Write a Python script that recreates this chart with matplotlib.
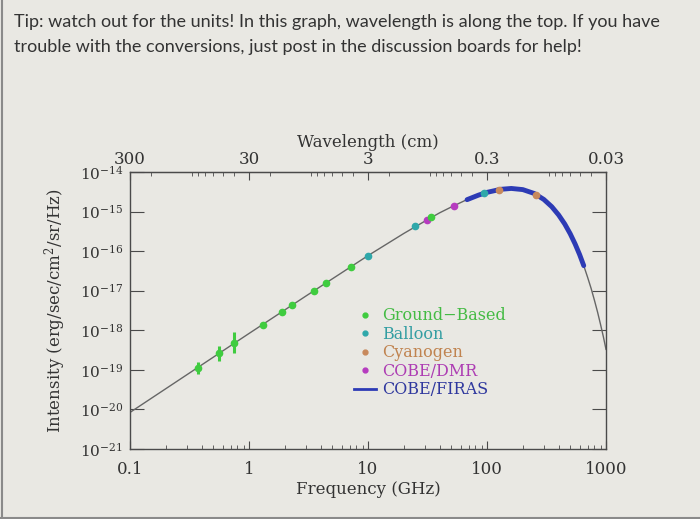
import matplotlib
matplotlib.use("Agg")
import numpy as np
import matplotlib.pyplot as plt
from matplotlib.lines import Line2D

# blackbody curve: frequency (GHz) vs intensity (erg/sec/cm^2/sr/Hz)
curve_freq = [0.1, 0.3, 1, 3, 10, 20, 30, 40, 50, 70, 100, 130, 160, 200, 250, 300,
              350, 400, 450, 500, 550, 600, 650, 700, 750, 800, 850, 900, 950, 1000]
curve_int = [8.4e-21, 7.5e-20, 8.3e-19, 7.3e-18, 7.7e-17, 2.8e-16, 5.7e-16, 9.3e-16,
             1.3e-15, 2.1e-15, 3.06e-15, 3.65e-15, 3.84e-15, 3.59e-15, 2.86e-15, 2.03e-15,
             1.33e-15, 8.2e-16, 4.86e-16, 2.76e-16, 1.52e-16, 8.2e-17, 4.3e-17, 2.2e-17,
             1.14e-17, 5.7e-18, 2.86e-18, 1.4e-18, 6.9e-19, 3.3e-19]

# COBE/FIRAS band
firas_freq = [68, 85, 100, 130, 160, 200, 250, 300, 350, 400, 450, 500, 550, 600, 650]
firas_int = [2.0e-15, 2.61e-15, 3.06e-15, 3.65e-15, 3.84e-15, 3.59e-15, 2.86e-15, 2.03e-15,
             1.33e-15, 8.2e-16, 4.86e-16, 2.76e-16, 1.52e-16, 8.2e-17, 4.3e-17]

# ground based points (with lower / upper ends of the error bars)
gb_freq = [0.37, 0.56, 0.75, 1.3, 1.9, 2.3, 3.5, 4.4, 7.2, 34]
gb_int = [1.14e-19, 2.6e-19, 4.7e-19, 1.39e-18, 2.95e-18, 4.3e-18, 9.9e-18, 1.55e-17, 4.05e-17, 7.1e-16]
gb_lo = [8.0e-20, 1.7e-19, 2.6e-19, 1.39e-18, 2.95e-18, 4.3e-18, 9.9e-18, 1.55e-17, 4.05e-17, 7.1e-16]
gb_hi = [1.6e-19, 4.0e-19, 9.0e-19, 1.39e-18, 2.95e-18, 4.3e-18, 9.9e-18, 1.55e-17, 4.05e-17, 7.1e-16]

balloon_freq = [10, 25, 95]
balloon_int = [7.7e-17, 4.2e-16, 3.0e-15]

dmr_freq = [31.5, 53]
dmr_int = [6.2e-16, 1.42e-15]

cn_freq = [125, 260]
cn_int = [3.59e-15, 2.69e-15]

freq_ticks = [0.1, 1, 10, 100, 1000]
freq_labels = ["0.1", "1", "10", "100", "1000"]
wl_ticks = [300, 30, 3, 0.3, 0.03]
wl_labels = ["300", "30", "3", "0.3", "0.03"]
y_exps = [-21, -20, -19, -18, -17, -16, -15, -14]

tip_lines = ["Tip: watch out for the units! In this graph, wavelength is along the top. If you have",
             "trouble with the conversions, just post in the discussion boards for help!"]

c_green = "#3fcc3f"
c_teal = "#2fa8aa"
c_cn = "#c8895c"
c_dmr = "#b63cbf"
c_firas = "#2d3bb5"
c_ink = "#4a4a4a"
bg = "#e9e8e3"

plt.rcParams["font.family"] = ["DejaVu Serif"]
plt.rcParams["mathtext.fontset"] = "dejavuserif"

fig = plt.figure(figsize=(7, 5.19), dpi=100, facecolor=bg)
ax = fig.add_axes([130 / 700, 1 - 449 / 519, 476 / 700, 277 / 519])
ax.set_facecolor(bg)

ax.plot(curve_freq, curve_int, color="#666666", lw=1)
ax.plot(firas_freq, firas_int, color=c_firas, lw=3.5, solid_capstyle="round")

gb_int_a = np.array(gb_int)
yerr = [gb_int_a - np.array(gb_lo), np.array(gb_hi) - gb_int_a]
ax.errorbar(gb_freq, gb_int, yerr=yerr, fmt="o", color=c_green, ms=4.5,
            elinewidth=2.2, capsize=0)
ax.plot(balloon_freq, balloon_int, "o", color=c_teal, ms=4.5)
ax.plot(dmr_freq, dmr_int, "o", color=c_dmr, ms=4.5)
ax.plot(cn_freq, cn_int, "o", color=c_cn, ms=4.5)

ax.set_xscale("log")
ax.set_yscale("log")
ax.set_xlim(0.1, 1000)
ax.set_ylim(1e-21, 1e-14)

for s in ax.spines.values():
    s.set_color(c_ink)
    s.set_linewidth(1)

ax.set_xticks(freq_ticks)
ax.set_xticklabels(freq_labels)
ax.tick_params(axis="x", which="major", direction="in", length=6, color=c_ink,
               labelsize=12, labelcolor="#333333", pad=9)
ax.tick_params(axis="x", which="minor", direction="in", length=3, color=c_ink)

ax.set_yticks([10.0 ** e for e in y_exps])
ax.set_yticklabels([r"$10^{%d}$" % e for e in y_exps])
ax.yaxis.set_minor_locator(matplotlib.ticker.NullLocator())
ax.tick_params(axis="y", which="major", direction="in", length=10, color=c_ink,
               labelsize=11, labelcolor="#333333", right=True, pad=5)

ax.set_xlabel("Frequency (GHz)", fontsize=12, color="#333333", labelpad=2)
ax.set_ylabel("Intensity (erg/sec/cm$^2$/sr/Hz)", fontsize=12, color="#333333", labelpad=8)

sec = ax.secondary_xaxis("top", functions=(lambda f: 30.0 / f, lambda w: 30.0 / w))
sec.set_xticks(wl_ticks)
sec.set_xticklabels(wl_labels)
sec.tick_params(axis="x", which="major", direction="in", length=6, color=c_ink,
                labelsize=12, labelcolor="#333333", pad=3)
sec.tick_params(axis="x", which="minor", direction="in", length=3, color=c_ink)
sec.spines["top"].set_color(c_ink)
sec.set_xlabel("Wavelength (cm)", fontsize=12, color="#333333", labelpad=3)

handles = [Line2D([], [], ls="none", marker="o", ms=3.5, color=c_green),
           Line2D([], [], ls="none", marker="o", ms=3.5, color=c_teal),
           Line2D([], [], ls="none", marker="o", ms=3.5, color=c_cn),
           Line2D([], [], ls="none", marker="o", ms=3.5, color=c_dmr),
           Line2D([], [], color=c_firas, lw=2)]
labels = ["Ground\u2212Based", "Balloon", "Cyanogen", "COBE/DMR", "COBE/FIRAS"]
ax.legend(handles, labels, loc="upper left", bbox_to_anchor=(0.453, 0.54), frameon=False,
          fontsize=11.5, handlelength=1.4, handletextpad=0.4, labelspacing=0.09,
          labelcolor=["#44bb44", "#339ea2", "#c0834f", "#ad3cb3", "#2f389e"], borderpad=0)

fig.text(14 / 700, 1 - 22 / 519, tip_lines[0], fontfamily="Lato", fontsize=13,
         color="#333333", va="center", ha="left")
fig.text(14 / 700, 1 - 47 / 519, tip_lines[1], fontfamily="Lato", fontsize=13,
         color="#333333", va="center", ha="left")

# screenshot frame edges
fig.add_artist(Line2D([1.5 / 700, 1.5 / 700], [0, 1], color="#8a8a8a", lw=1.5))
fig.add_artist(Line2D([0, 1], [1.5 / 519, 1.5 / 519], color="#8a8a8a", lw=1.5))

fig.savefig("out.png", dpi=100, facecolor=bg)
